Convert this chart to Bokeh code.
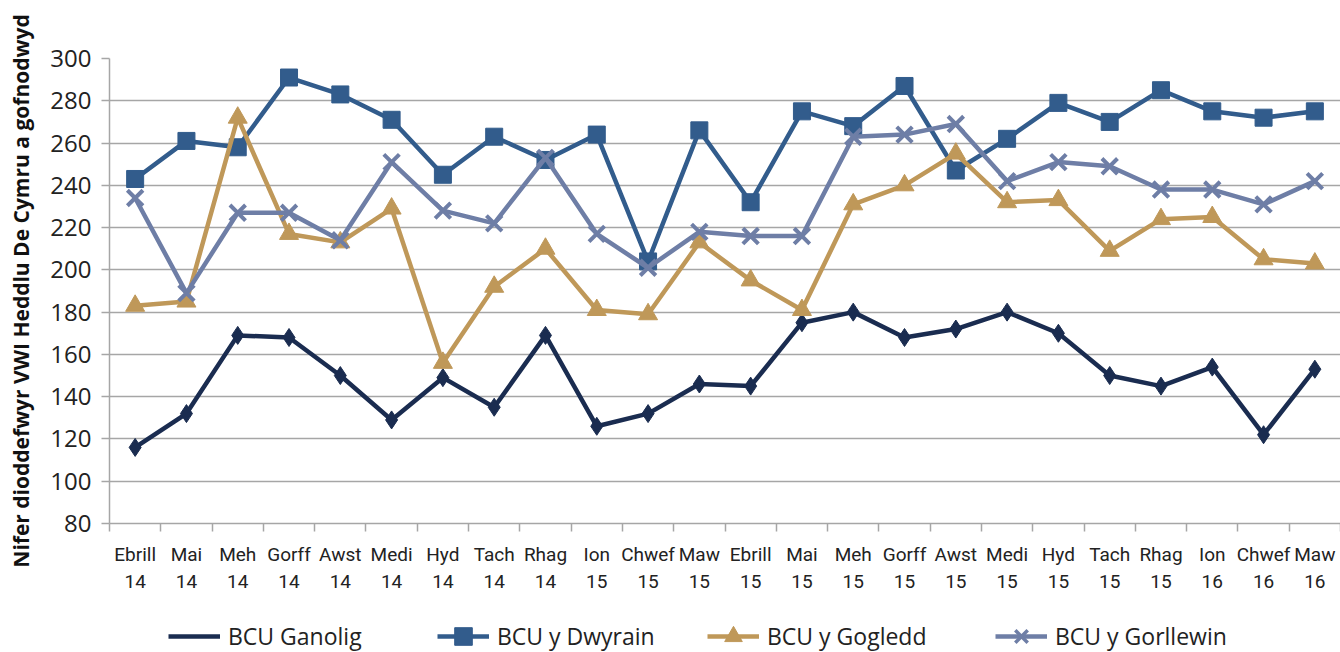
from bokeh.plotting import figure
from bokeh.layouts import column
from bokeh.models import FixedTicker, Legend, LegendItem, Range1d, ColumnDataSource
from bokeh.embed import file_html
from bokeh.resources import INLINE

months = ["Ebrill\n14", "Mai\n14", "Meh\n14", "Gorff\n14", "Awst\n14", "Medi\n14", "Hyd\n14",
          "Tach\n14", "Rhag\n14", "Ion\n15", "Chwef\n15", "Maw\n15", "Ebrill\n15", "Mai\n15",
          "Meh\n15", "Gorff\n15", "Awst\n15", "Medi\n15", "Hyd\n15", "Tach\n15", "Rhag\n15",
          "Ion\n16", "Chwef\n16", "Maw\n16"]

ganolig = [116, 132, 169, 168, 150, 129, 149, 135, 169, 126, 132, 146, 145, 175, 180, 168,
           172, 180, 170, 150, 145, 154, 122, 153]
dwyrain = [243, 261, 258, 291, 283, 271, 245, 263, 252, 264, 204, 266, 232, 275, 268, 287,
           247, 262, 279, 270, 285, 275, 272, 275]
gogledd = [183, 185, 272, 217, 213, 229, 156, 192, 210, 181, 179, 213, 195, 181, 231, 240,
           255, 232, 233, 209, 224, 225, 205, 203]
gorllewin = [234, 189, 227, 227, 214, 251, 228, 222, 253, 217, 201, 218, 216, 216, 263, 264,
             269, 242, 251, 249, 238, 238, 231, 242]

names = ["BCU Ganolig", "BCU y Dwyrain", "BCU y Gogledd", "BCU y Gorllewin"]
colors = ["#1a2c50", "#325c8c", "#bf9859", "#6e7ea6"]

FONT = "Open Sans"
XFONT = "Roboto"
x = list(range(1, len(months) + 1))
LEFT = 109

p = figure(width=1340, height=606, output_backend="svg", toolbar_location=None,
           x_range=Range1d(0.5, len(months) + 0.5), y_range=Range1d(80, 300),
           min_border_left=LEFT, min_border_top=58, min_border_right=0, min_border_bottom=83)
p.outline_line_color = None
p.background_fill_color = "white"
p.border_fill_color = "white"

# axes
p.xaxis.ticker = FixedTicker(ticks=x, minor_ticks=[i + 0.5 for i in range(len(months) + 1)])
p.xaxis.major_label_overrides = {i: m for i, m in zip(x, months)}
p.xaxis.major_tick_line_color = None
p.xaxis.minor_tick_out = 8
p.xaxis.minor_tick_in = 0
p.xaxis.minor_tick_line_color = "#a6a6a6"
p.xaxis.minor_tick_line_width = 1.5
p.xaxis.axis_line_color = "#a6a6a6"
p.xaxis.axis_line_width = 1.5
p.xaxis.major_label_text_font = XFONT
p.xaxis.major_label_text_font_size = "19px"
p.xaxis.major_label_text_color = "#222222"
p.xaxis.major_label_standoff = 11

p.yaxis.ticker = FixedTicker(ticks=list(range(80, 301, 20)))
p.yaxis.minor_tick_line_color = None
p.yaxis.major_tick_out = 8
p.yaxis.major_tick_in = 0
p.yaxis.major_tick_line_color = "#a6a6a6"
p.yaxis.major_tick_line_width = 1.5
p.yaxis.axis_line_color = "#a6a6a6"
p.yaxis.axis_line_width = 1.5
p.yaxis.major_label_text_font = FONT
p.yaxis.major_label_text_font_size = "24px"
p.yaxis.major_label_text_color = "#222222"
p.yaxis.major_label_standoff = 10
p.yaxis.axis_label = "Nifer dioddefwyr VWI Heddlu De Cymru a gofnodwyd"
p.yaxis.axis_label_text_font = FONT
p.yaxis.axis_label_text_font_style = "bold"
p.yaxis.axis_label_text_font_size = "21px"
p.yaxis.axis_label_text_color = "#111111"
p.yaxis.axis_label_standoff = 12

p.xgrid.grid_line_color = None
p.ygrid.grid_line_color = "#a6a6a6"
p.ygrid.grid_line_width = 1.5

# legend strip below the chart (its frame is aligned with the chart frame by the column)
lg = figure(width=1340, height=46, output_backend="svg", toolbar_location=None,
            x_range=Range1d(0, 1), y_range=Range1d(0, 1),
            x_axis_type=None, y_axis_type=None,
            min_border_left=LEFT, min_border_right=0, min_border_top=0, min_border_bottom=0)
lg.grid.grid_line_color = None
lg.outline_line_color = None
lg.border_fill_color = "white"

series = [ganolig, dwyrain, gogledd, gorllewin]
markers = ["diamond", "square", "triangle", "x"]
sizes = [18, 17, 19, 22]
legend_x = [168, 437, 707, 995]
legend_gh = [40, 44, 44, 44]
offscreen = ColumnDataSource(data=dict(x=[-10], y=[-10]))
for i, (name, col, vals, mk, sz) in enumerate(zip(names, colors, series, markers, sizes)):
    p.line(x, vals, line_color=col, line_width=4.5)
    if mk == "x":
        p.scatter(x, vals, marker=mk, size=sz, line_color=col, line_width=4)
    else:
        p.scatter(x, vals, marker=mk, size=sz, fill_color=col, line_color=col)
    l1 = lg.line("x", "y", source=offscreen, line_color=col, line_width=4.5)
    rends = [l1]
    if i > 0:
        if mk == "x":
            l2 = lg.scatter("x", "y", source=offscreen, marker=mk, size=sz, line_color=col, line_width=3.5)
        else:
            l2 = lg.scatter("x", "y", source=offscreen, marker=mk, size=sz, fill_color=col, line_color=col)
        rends.append(l2)
    gh = legend_gh[i]
    leg = Legend(items=[LegendItem(label=name, renderers=rends)],
                 location=(legend_x[i] - LEFT, 652 - 636 - gh // 2),
                 label_text_font=FONT, label_text_font_size="23px", label_text_color="#222222",
                 glyph_width=52, glyph_height=gh, label_standoff=8,
                 border_line_color=None, background_fill_alpha=0, padding=0, margin=0)
    lg.add_layout(leg, "center")

layout = column(p, lg, spacing=0)
open("out.html", "w").write(file_html(layout, INLINE))
